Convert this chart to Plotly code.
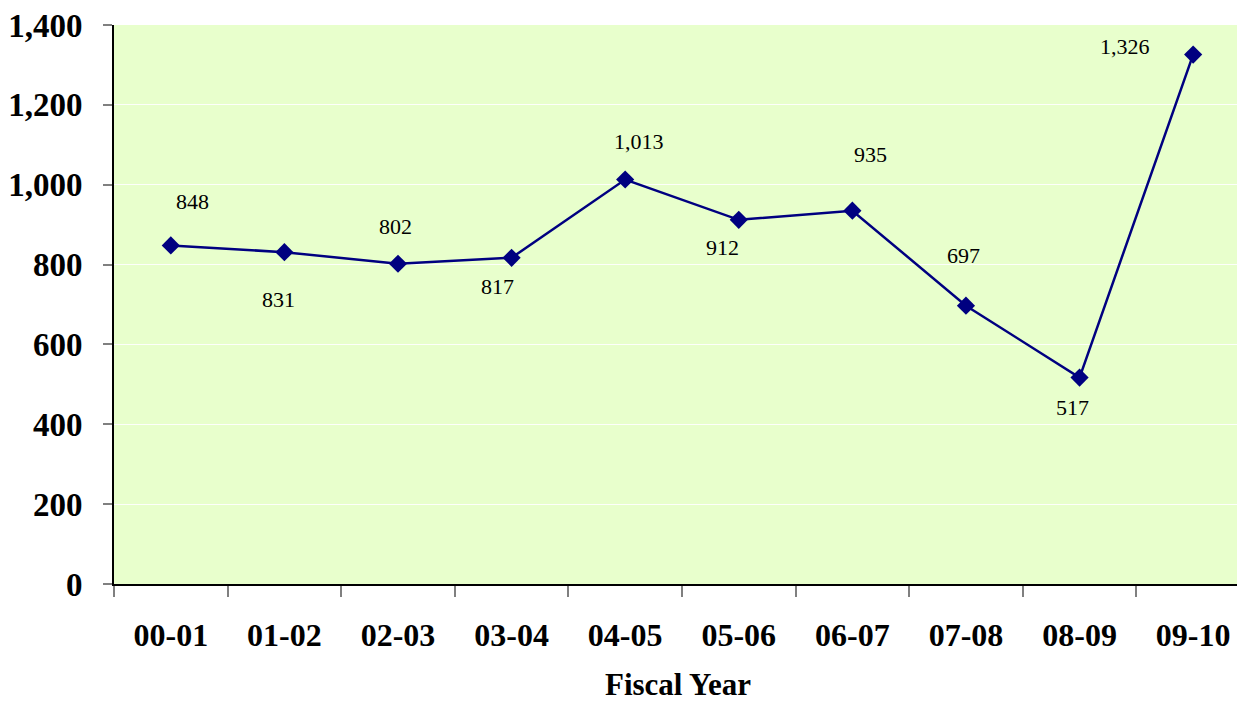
import plotly.graph_objects as go

years = ["00-01", "01-02", "02-03", "03-04", "04-05", "05-06", "06-07", "07-08", "08-09", "09-10"]
values = [848, 831, 802, 817, 1013, 912, 935, 697, 517, 1326]
y_ticks = [0, 200, 400, 600, 800, 1000, 1200, 1400]
y_ticktext = ["0", "200", "400", "600", "800", "1,000", "1,200", "1,400"]
x_title = "Fiscal Year"

# label offsets (pixels) for the data labels
label_dx = [22, -6, -2, -14, 14, -16, 18, -2, -7, -68]
label_dy = [44, -47, 37, -29, 38, -28, 56, 50, -30, 8]

FONT = "Liberation Serif"

fig = go.Figure()
fig.add_trace(go.Scatter(
    x=years, y=values, mode="lines+markers",
    line=dict(color="#000080", width=2.5),
    marker=dict(symbol="diamond", size=14, color="#000080"),
    showlegend=False, hoverinfo="x+y",
))

for i, (c, v) in enumerate(zip(years, values)):
    fig.add_annotation(
        x=c, y=v, text=f"{v:,}", showarrow=False,
        xshift=label_dx[i], yshift=label_dy[i],
        font=dict(family=FONT, size=22, color="black"),
    )

# axis title placed below the tick labels
fig.add_annotation(
    xref="paper", yref="paper", x=0.5, y=0, yanchor="middle", xanchor="center",
    yshift=-100, xshift=2, showarrow=False, text=f"<b>{x_title}</b>",
    font=dict(family=FONT, size=31, color="black"),
)

fig.update_layout(
    width=1237, height=703,
    margin=dict(l=114, r=0, t=25, b=119),
    paper_bgcolor="white",
    plot_bgcolor="#e8ffcc",
    font=dict(family=FONT, color="black"),
    xaxis=dict(
        type="category",
        range=[-0.5, 9.386],
        tickson="boundaries",
        ticks="outside", ticklen=11, tickcolor="#808080", tickwidth=1.5,
        showline=True, linecolor="black", linewidth=2,
        showgrid=False, automargin=False,
        tickfont=dict(family=FONT, size=32, color="black", weight="bold"),
        ticklabelstandoff=22,
    ),
    yaxis=dict(
        range=[0, 1400],
        tickmode="array", tickvals=y_ticks, ticktext=y_ticktext,
        ticks="outside", ticklen=9, tickcolor="#808080", tickwidth=1.5,
        showline=True, linecolor="black", linewidth=2,
        showgrid=True, gridcolor="rgba(255,255,255,0.9)", gridwidth=1,
        zeroline=False, automargin=False,
        tickfont=dict(family=FONT, size=33, color="black", weight="bold"),
        ticklabelstandoff=14,
    ),
)

fig.write_html(
    "out.html",
    config={"displayModeBar": False},
    post_script="document.body.style.margin='0';document.body.style.padding='0';",
)
